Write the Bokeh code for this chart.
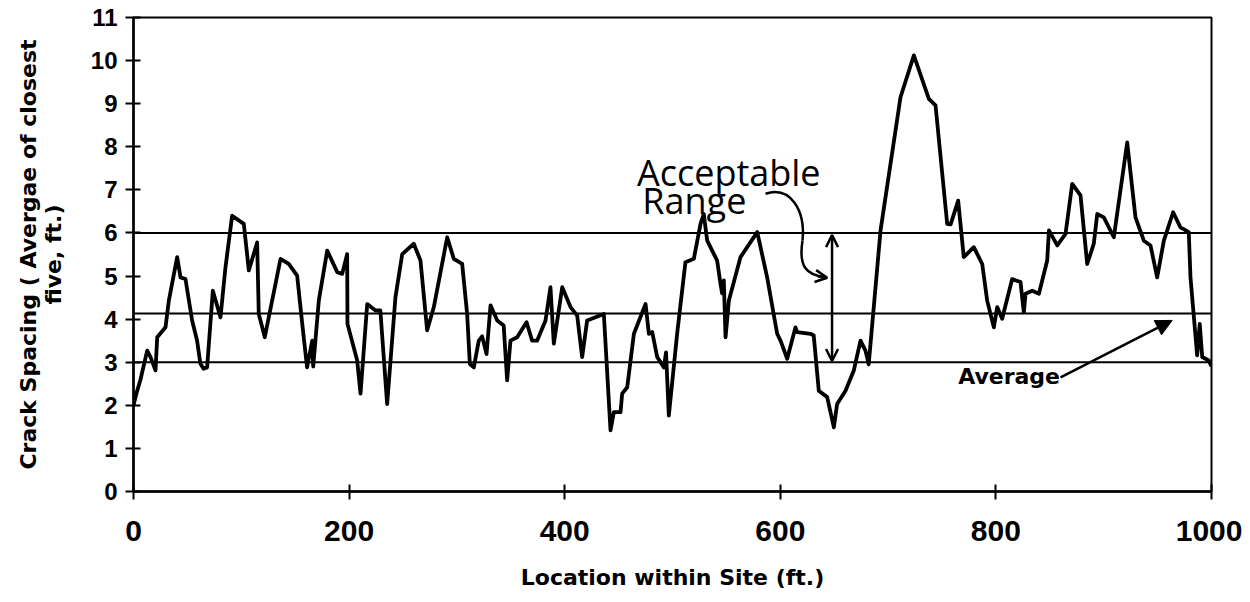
from bokeh.plotting import figure
from bokeh.models import Range1d, FixedTicker, Arrow, OpenHead, NormalHead, Span
from bokeh.core.properties import value
from bokeh.embed import file_html
from bokeh.resources import INLINE

# ---- data ----
location_ft = [0, 3, 6.5, 12.7, 15.8, 20.4, 22, 29.7, 32.8, 40.5, 43.6, 48.2, 54.4, 59, 62, 65, 68.3,
               73.6, 80.7, 85.3, 91.5, 102.3, 107, 114.7, 116.2, 121.8, 136.4, 144, 151.8, 156.5, 161,
               165.8, 166.7, 171.9, 179.7, 189, 193.6, 198.2, 198.5, 207.5, 210.6, 216.8, 224.5, 229,
               235.3, 243, 249.3, 260, 266.2, 272.4, 278.6, 291, 297.1, 304.9, 309.5, 312, 315.7, 320.3,
               323.4, 327.5, 331.2, 337.4, 343.4, 346.6, 349.7, 355.9, 364.6, 369.8, 374.4, 382.2, 386.8,
               389.9, 397.7, 405.4, 411.6, 416.2, 420.8, 436.3, 442.5, 445.6, 451.8, 453.3, 458, 464.2,
               475, 478.1, 481.2, 485.8, 492, 494, 496.6, 504.3, 512, 519.8, 526, 529, 532.2, 541.4,
               544.5, 546, 547.6, 549.2, 552.3, 563.1, 578.6, 587.8, 597.1, 600.2, 606.4, 614.1, 615.6,
               628, 631, 635.7, 643.5, 649.7, 652.7, 660.5, 668.2, 674.4, 679, 682, 693, 711.5, 723.9,
               737.8, 744, 754.8, 758, 765, 770.2, 779.5, 787.3, 791.9, 798.1, 801.2, 805.8, 815.1,
               822.8, 825.9, 827.5, 833.7, 839.9, 847.6, 849.2, 856.9, 864.6, 870.8, 878.5, 884.7,
               890.8, 894, 900.1, 909.4, 921.8, 929.5, 937.2, 943.4, 949.6, 955.8, 964.4, 971.2, 978.9,
               980.5, 986.7, 989.1, 991.4, 997.5, 1000]
crack_spacing = [2.0, 2.3, 2.6, 3.27, 3.12, 2.81, 3.58, 3.81, 4.43, 5.44, 4.97, 4.93, 3.97, 3.5, 2.97, 2.85,
                 2.88, 4.66, 4.04, 5.2, 6.4, 6.21, 5.13, 5.78, 4.12, 3.58, 5.4, 5.28, 5.01, 3.9, 2.88,
                 3.5, 2.9, 4.43, 5.59, 5.09, 5.05, 5.51, 3.89, 3.04, 2.27, 4.35, 4.2, 4.2,
                 2.03, 4.51, 5.51, 5.75, 5.36, 3.74, 4.28, 5.9, 5.4, 5.28, 4.12, 2.96, 2.88, 3.5,
                 3.6, 3.19, 4.32, 3.97, 3.85, 2.58, 3.5, 3.58, 3.93, 3.5, 3.5, 3.97, 4.74,
                 3.43, 4.74, 4.28, 4.08, 3.12, 3.97, 4.12, 1.42, 1.84, 1.84, 2.27, 2.42, 3.66,
                 4.35, 3.66, 3.7, 3.12, 2.88, 3.23, 1.76, 3.66, 5.32, 5.4, 6.21, 6.44, 5.82, 5.36,
                 4.82, 4.6, 4.9, 3.58, 4.43, 5.44, 6.02, 4.97, 3.66, 3.5, 3.08, 3.81, 3.7,
                 3.66, 3.62, 2.34, 2.19, 1.49, 2.03, 2.34, 2.81, 3.5, 3.27, 2.95, 6.06, 9.15, 10.12,
                 9.11, 8.96, 6.21, 6.2, 6.75, 5.44, 5.67, 5.28, 4.43, 3.81, 4.28, 4.01, 4.93,
                 4.86, 4.16, 4.59, 4.66, 4.59, 5.36, 6.06, 5.71, 5.98, 7.14, 6.87, 5.28,
                 5.75, 6.44, 6.36, 5.9, 8.1, 6.36, 5.82, 5.71, 4.97, 5.82, 6.48, 6.13, 6.02,
                 4.97, 3.16, 3.89, 3.12, 3.04, 2.9]
upper_limit = 6.0
average_value = 4.13
lower_limit = 3.0
x_ticks = [0, 200, 400, 600, 800, 1000]
y_ticks = list(range(0, 12))

p = figure(width=1242, height=594, x_range=Range1d(0, 1000), y_range=Range1d(0, 11),
           output_backend="svg", toolbar_location=None,
           min_border_left=133, min_border_right=31, min_border_top=17, min_border_bottom=103)
p.background_fill_color = "white"
p.border_fill_color = "white"
p.outline_line_color = "black"
p.outline_line_width = 2
p.grid.visible = False

# reference lines
for loc in (upper_limit, average_value, lower_limit):
    p.add_layout(Span(location=loc, dimension="width", line_color="black", line_width=2))

p.line(location_ft, crack_spacing, line_color="black", line_width=3.8, line_join="round")

# axes
for ax in (p.xaxis, p.yaxis):
    ax.axis_line_width = 2.5
    ax.axis_line_color = "black"
    ax.major_tick_line_width = 2
    ax.major_tick_line_color = "black"
    ax.minor_tick_line_color = None
    ax.major_tick_out = 8
    ax.major_tick_in = 7
    ax.major_label_text_font = "Liberation Sans"
    ax.major_label_text_font_style = "bold"
    ax.major_label_text_color = "black"
    ax.axis_label_text_font = "DejaVu Sans"
    ax.axis_label_text_font_style = "bold"
    ax.axis_label_text_font_size = "22px"
    ax.axis_label_text_color = "black"

p.xaxis.ticker = FixedTicker(ticks=x_ticks)
p.yaxis.ticker = FixedTicker(ticks=y_ticks)
p.xaxis.major_label_text_font_size = "30px"
p.yaxis.major_label_text_font_size = "24px"
p.xaxis.major_label_standoff = 21
p.yaxis.major_label_standoff = 8
p.xaxis.axis_label = "Location within Site (ft.)"
p.xaxis.axis_label_standoff = 21
p.yaxis.axis_label = "Crack Spacing ( Avergae of closest\nfive, ft.)"
p.yaxis.axis_label_text_line_height = 1.0
p.yaxis.axis_label_standoff = 22

# annotations
p.text(x=[467, 472], y=[7.4, 6.75], text=["Acceptable", "Range"],
       text_font=value("Open Sans"), text_font_size="36px", text_color="black",
       text_baseline="alphabetic", text_align="left")
p.bezier(x0=[586.3, 620.6], y0=[6.91, 5.82], x1=[620.6, 642.9], y1=[5.82, 4.97],
         cx0=[609.5, 616.9], cy0=[7.10, 5.24], cx1=[623.4, 623.4], cy1=[6.52, 5.01],
         line_color="black", line_width=2.5)
p.add_layout(Arrow(end=OpenHead(size=12, line_width=2.5, line_color="black"),
                   x_start=635, y_start=4.99, x_end=643.5, y_end=4.96,
                   line_color="black", line_width=2.5))
p.add_layout(Arrow(start=OpenHead(size=12, line_width=2.5, line_color="black"),
                   end=OpenHead(size=12, line_width=2.5, line_color="black"),
                   x_start=648, y_start=3.03, x_end=648, y_end=5.95,
                   line_color="black", line_width=2.5))

p.text(x=[765], y=[2.68], text=["Average"], text_font=value("DejaVu Sans"),
       text_font_style="bold", text_font_size="22px", text_color="black",
       text_baseline="middle", text_align="left")
p.add_layout(Arrow(end=NormalHead(size=16, fill_color="black", line_color="black"),
                   x_start=860, y_start=2.65, x_end=963.5, y_end=3.97,
                   line_color="black", line_width=2.5))

open("out.html", "w").write(file_html(p, INLINE))
